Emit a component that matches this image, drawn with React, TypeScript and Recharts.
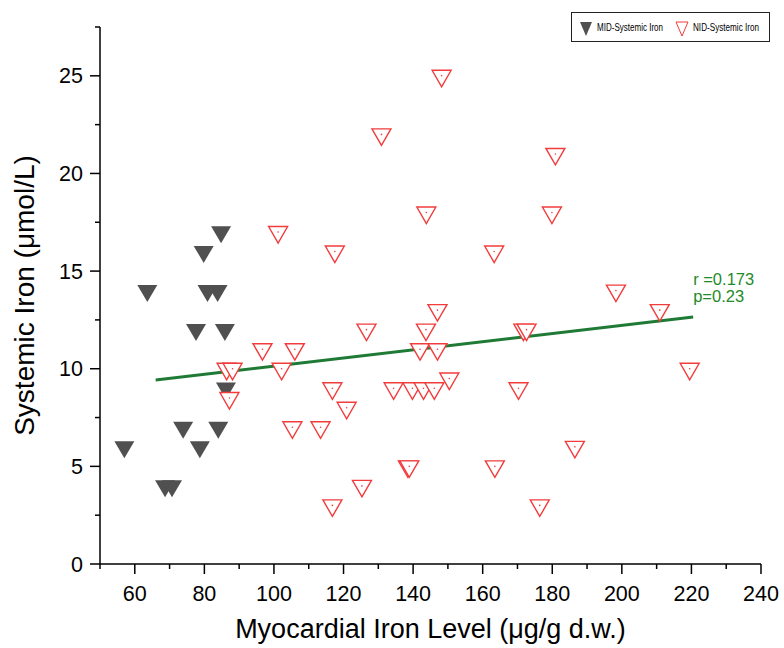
import { ScatterChart, Scatter, XAxis, YAxis, ReferenceLine, ReferenceDot, Legend } from 'recharts';

// MID group (filled dark triangles)
const midIron = [57.0, 63.6, 68.7, 70.7, 73.9, 77.6, 78.7, 79.8, 80.9, 83.8, 84.0, 84.8, 85.9, 86.2];
const midSystemic = [6, 14, 4, 4, 7, 12, 6, 16, 14, 14, 7, 17, 12, 9];

// NID group (open red triangles)
const nidIron = [
  86.4, 88.1, 87.2, 96.7, 101.2, 102.2, 105.3, 106.0, 113.4, 116.8, 116.8, 117.5, 120.9, 125.3,
  126.6, 130.9, 134.4, 138.5, 138.9, 139.8, 142.0, 143.0, 143.7, 143.8, 146.1, 147.0, 147.0,
  148.2, 150.4, 163.3, 163.5, 170.3, 171.7, 172.6, 176.4, 179.9, 180.9, 186.5, 198.3, 210.9, 219.5,
];
const nidSystemic = [
  10, 10, 8.5, 11, 17, 10, 7, 11, 7, 3, 9, 16, 8, 4,
  12, 22, 9, 5, 5, 9, 11, 9, 12, 18, 9, 11, 13,
  25, 9.5, 16, 5, 9, 12, 12, 3, 18, 21, 6, 14, 13, 10,
];

// linear fit ends
const fitIron = [66, 220.5];
const fitSystemic = [9.42, 12.65];
const statLines = ['r =0.173', 'p=0.23'];

const xTicks = [50, 60, 70, 80, 90, 100, 110, 120, 130, 140, 150, 160, 170, 180, 190, 200, 210, 220, 230, 240];
const yTicks = [0, 2.5, 5, 7.5, 10, 12.5, 15, 17.5, 20, 22.5, 25, 27.5];

const midData = midIron.map((x, i) => ({ x, y: midSystemic[i] }));
const nidData = nidIron.map((x, i) => ({ x, y: nidSystemic[i] }));

const FONT = '"Liberation Sans", Arial, sans-serif';
const DARK = '#505050';
const RED = '#f23c3c';
const GREEN = '#1f7a36';

// triangle pointing down, centroid on the data point
const triPath = (cx: number, cy: number, w: number, h: number) => {
  const top = cy - h / 3;
  const tip = cy + (2 * h) / 3;
  return `M${cx - w / 2},${top} L${cx + w / 2},${top} L${cx},${tip} Z`;
};

const MidShape = (p: any) => <path d={triPath(p.cx, p.cy, 20, 17)} fill={DARK} />;

const NidShape = (p: any) => (
  <g>
    <path d={triPath(p.cx, p.cy, 19, 16.5)} fill="#fff" stroke={RED} strokeWidth={1.4} />
    <circle cx={p.cx} cy={p.cy} r={0.8} fill={RED} />
  </g>
);

const YTick = ({ x, y, payload }: any) => {
  const major = payload.value % 5 === 0;
  return (
    <g>
      <line x1={x - (major ? 10 : 5)} x2={x} y1={y} y2={y} stroke="#000" strokeWidth={1.5} />
      {major && (
        <text x={x - 17} y={y + 7.5} textAnchor="end" fontSize={21.5} fontFamily={FONT} fill="#000">
          {payload.value}
        </text>
      )}
    </g>
  );
};

const XTick = ({ x, y, payload }: any) => {
  const major = payload.value % 20 === 0;
  return (
    <g>
      <line x1={x} x2={x} y1={y} y2={y + (major ? 10 : 5)} stroke="#000" strokeWidth={1.5} />
      {major && (
        <text x={x} y={y + 37} textAnchor="middle" fontSize={21.5} fontFamily={FONT} fill="#000">
          {payload.value}
        </text>
      )}
    </g>
  );
};

const LegendBox = ({ payload }: any) => {
  const items = payload || [];
  return (
    <div style={{ width: 199, height: 30, border: '1.3px solid #222', boxSizing: 'border-box', background: '#fff' }}>
      <svg width={197} height={28} style={{ overflow: 'visible' }}>
        {items.map((it: any, i: number) => {
          const cx = 14 + i * 96;
          const open = it.value.startsWith('NID');
          return (
            <g key={it.value}>
              <path
                d={`M${cx - 6},9 L${cx + 6},9 L${cx},23 Z`}
                fill={open ? '#fff' : DARK}
                stroke={open ? RED : 'none'}
                strokeWidth={1}
              />
              <text x={cx + 11} y={18} fontSize={10.5} fontFamily={FONT} fill="#000" textLength={66} lengthAdjust="spacingAndGlyphs">
                {it.value}
              </text>
            </g>
          );
        })}
      </svg>
    </div>
  );
};

const StatLabel = ({ viewBox }: any) => {
  const x = viewBox.x + viewBox.width / 2;
  const y = viewBox.y + viewBox.height / 2;
  return (
    <g>
      {statLines.map((s, i) => (
        <text key={s} x={x} y={y + i * 17} fontSize={16.5} fontFamily={FONT} fill="#1f8a2a">
          {s}
        </text>
      ))}
    </g>
  );
};

export default function App() {
  return (
    <div style={{ position: 'absolute', left: 0, top: 0, width: 784, height: 648, background: '#fff' }}>
      <ScatterChart width={784} height={648} margin={{ top: 27, right: 23, bottom: 0, left: 0 }}>
        <XAxis
          type="number"
          dataKey="x"
          domain={[50, 240]}
          ticks={xTicks}
          interval={0}
          height={84}
          tickSize={0}
          tickMargin={0}
          tickLine={false}
          axisLine={{ stroke: '#000', strokeWidth: 1.5 }}
          tick={<XTick />}
          label={{
            content: ({ viewBox }: any) => (
              <text
                x={viewBox.x + viewBox.width / 2}
                y={viewBox.y + 74}
                textAnchor="middle"
                fontSize={27}
                fontFamily={FONT}
                fill="#000"
              >
                Myocardial Iron Level (μg/g d.w.)
              </text>
            ),
          }}
        />
        <YAxis
          type="number"
          dataKey="y"
          domain={[0, 27.5]}
          ticks={yTicks}
          interval={0}
          width={100}
          tickSize={0}
          tickMargin={0}
          tickLine={false}
          axisLine={{ stroke: '#000', strokeWidth: 1.5 }}
          tick={<YTick />}
          label={{
            content: ({ viewBox }: any) => {
              const cy = viewBox.y + viewBox.height / 2;
              return (
                <text
                  x={34}
                  y={cy}
                  transform={`rotate(-90, 34, ${cy})`}
                  textAnchor="middle"
                  fontSize={28}
                  fontFamily={FONT}
                  fill="#000"
                >
                  Systemic Iron (μmol/L)
                </text>
              );
            },
          }}
        />
        <Legend
          layout="vertical"
          align="center"
          verticalAlign="middle"
          wrapperStyle={{ left: 571, top: 12, width: 199, height: 30 }}
          content={<LegendBox />}
        />
        <Scatter name="MID-Systemic Iron" data={midData} fill={DARK} shape={MidShape} isAnimationActive={false} />
        <Scatter name="NID-Systemic Iron" data={nidData} fill={RED} shape={NidShape} isAnimationActive={false} />
        <ReferenceLine
          segment={[
            { x: fitIron[0], y: fitSystemic[0] },
            { x: fitIron[1], y: fitSystemic[1] },
          ]}
          stroke={GREEN}
          strokeWidth={3}
        />
        <ReferenceDot x={fitIron[1]} y={14.3} r={0} fill="none" stroke="none" label={<StatLabel />} />
      </ScatterChart>
    </div>
  );
}
